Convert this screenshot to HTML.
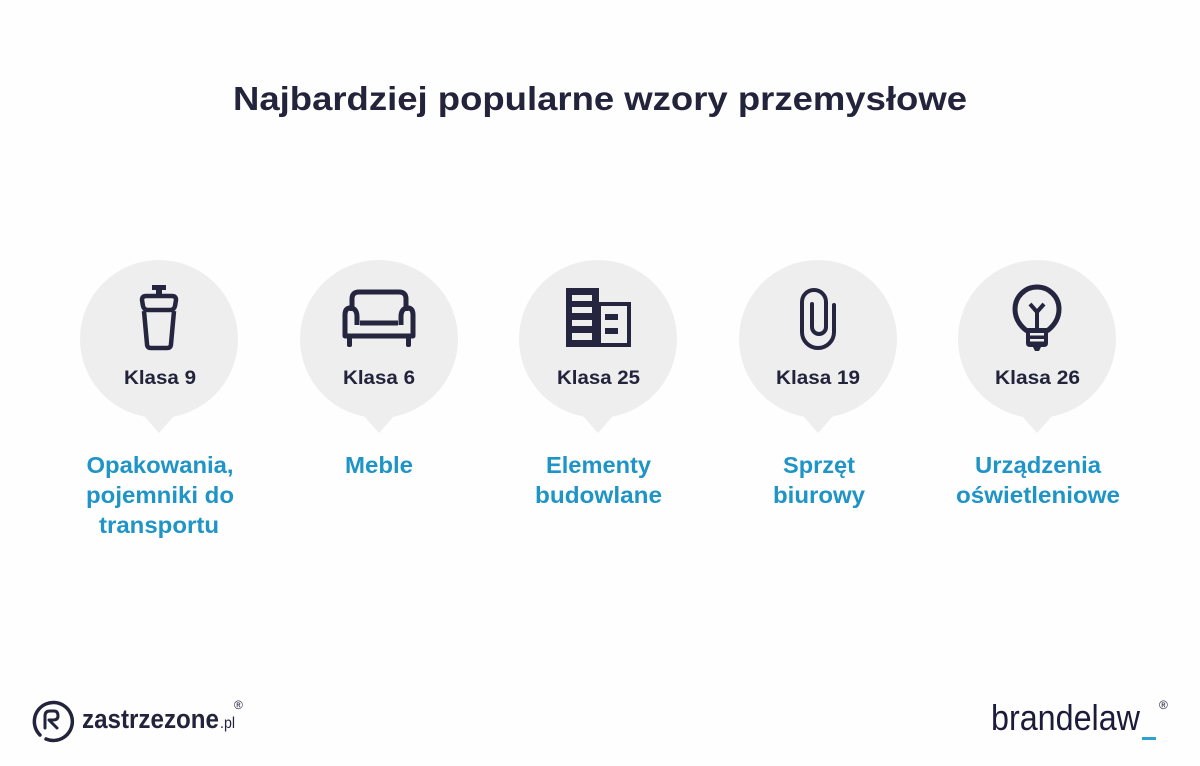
<!DOCTYPE html>
<html><head><meta charset="utf-8"><style>
html,body{margin:0;padding:0;background:#fff;}
svg{display:block;}
text{font-family:"Liberation Sans",sans-serif;}
</style></head><body>
<svg width="1200" height="766" viewBox="0 0 1200 766" xmlns="http://www.w3.org/2000/svg">
<rect width="1200" height="766" fill="#fefefe"/>
<text x="600" y="110" text-anchor="middle" font-size="33" font-weight="bold" fill="#23233c" textLength="734" lengthAdjust="spacingAndGlyphs">Najbardziej popularne wzory przemysłowe</text>

<g fill="#eeeeef">
<circle cx="159" cy="339" r="79"/><polygon points="137,408 181,408 159,433"/>
<circle cx="379" cy="339" r="79"/><polygon points="357,408 401,408 379,433"/>
<circle cx="598" cy="339" r="79"/><polygon points="576,408 620,408 598,433"/>
<circle cx="818" cy="339" r="79"/><polygon points="796,408 840,408 818,433"/>
<circle cx="1037" cy="339" r="79"/><polygon points="1015,408 1059,408 1037,433"/>
</g>

<g fill="#23233c" font-size="19" font-weight="bold">
<text x="160" y="384" text-anchor="middle" textLength="72" lengthAdjust="spacingAndGlyphs">Klasa 9</text>
<text x="379" y="384" text-anchor="middle" textLength="72" lengthAdjust="spacingAndGlyphs">Klasa 6</text>
<text x="598.5" y="384" text-anchor="middle" textLength="83" lengthAdjust="spacingAndGlyphs">Klasa 25</text>
<text x="818" y="384" text-anchor="middle" textLength="84" lengthAdjust="spacingAndGlyphs">Klasa 19</text>
<text x="1037.5" y="384" text-anchor="middle" textLength="85" lengthAdjust="spacingAndGlyphs">Klasa 26</text>
</g>

<!-- bottle -->
<g fill="none" stroke="#25253f" stroke-width="4.5" stroke-linejoin="round">
<path d="M146,296 L172,296 Q176,296 176,300 L175,306 Q174,310 170,310 L148,310 Q144,310 143,306 L142,300 Q142,296 146,296 Z"/>
<path d="M144,311 L147,344 Q147,348 151,348 L167,348 Q171,348 171,344 L174,311"/>
</g>
<rect x="152" y="285" width="14" height="5" fill="#25253f"/>
<rect x="156" y="289" width="6" height="7" fill="#25253f"/>

<!-- sofa -->
<g fill="none" stroke="#25253f" stroke-width="5" stroke-linejoin="round">
<path d="M352,311 L352,299 Q352,292 359,292 L399,292 Q406,292 406,299 L406,311"/>
<path d="M360,323 L398,323"/>
<path d="M357,325 L357,317 Q357,308 350,308 Q345,308 345,315 L345,336 L413,336 L413,315 Q413,308 408,308 Q401,308 401,317 L401,325"/>
</g>
<rect x="347" y="336" width="5" height="11" rx="2" fill="#25253f"/>
<rect x="406" y="336" width="5" height="11" rx="2" fill="#25253f"/>

<!-- building -->
<g fill="#25253f">
<rect x="566" y="288" width="33" height="59"/>
<rect x="598" y="302" width="33" height="45"/>
</g>
<g fill="#eeeeef">
<rect x="572" y="295" width="20" height="6"/>
<rect x="572" y="307" width="20" height="6"/>
<rect x="572" y="320" width="20" height="6"/>
<rect x="572" y="333" width="20" height="7"/>
<rect x="601" y="306" width="26" height="37"/>
</g>
<rect x="605" y="314" width="13" height="6" fill="#25253f"/>
<rect x="605" y="328" width="13" height="6" fill="#25253f"/>

<!-- paperclip -->
<path d="M834,305 L834,332 A16,16 0 0 1 802,332 L802,302 A12,12 0 0 1 826,302 L826,327 A7,7 0 0 1 812,327 L812,304" fill="none" stroke="#25253f" stroke-width="4" stroke-linecap="round"/>

<!-- bulb -->
<path d="M1027,331 Q1015,322 1015,309 A22,22 0 0 1 1059,309 Q1059,322 1047,331" fill="none" stroke="#25253f" stroke-width="5"/>
<path d="M1030,304 L1037,312 L1044,304 M1037,312 L1037,330" fill="none" stroke="#25253f" stroke-width="4"/>
<path d="M1026,328 L1048,328 L1048,343 Q1048,347 1044,347 L1041,347 L1039,351 L1035,351 L1033,347 L1030,347 Q1026,347 1026,343 Z" fill="#25253f"/>
<rect x="1030" y="333" width="14" height="2.5" fill="#eeeeef"/>
<rect x="1030" y="339" width="14" height="2.5" fill="#eeeeef"/>

<g fill="#1f94c6" font-size="23" font-weight="bold">
<text x="160" y="473" text-anchor="middle" textLength="147" lengthAdjust="spacingAndGlyphs">Opakowania,</text>
<text x="160" y="503" text-anchor="middle" textLength="148" lengthAdjust="spacingAndGlyphs">pojemniki do</text>
<text x="159" y="533" text-anchor="middle" textLength="120" lengthAdjust="spacingAndGlyphs">transportu</text>
<text x="379" y="473" text-anchor="middle" textLength="68" lengthAdjust="spacingAndGlyphs">Meble</text>
<text x="598.5" y="473" text-anchor="middle" textLength="105" lengthAdjust="spacingAndGlyphs">Elementy</text>
<text x="598.5" y="503" text-anchor="middle" textLength="127" lengthAdjust="spacingAndGlyphs">budowlane</text>
<text x="819" y="473" text-anchor="middle" textLength="72" lengthAdjust="spacingAndGlyphs">Sprzęt</text>
<text x="819" y="503" text-anchor="middle" textLength="92" lengthAdjust="spacingAndGlyphs">biurowy</text>
<text x="1038" y="473" text-anchor="middle" textLength="126" lengthAdjust="spacingAndGlyphs">Urządzenia</text>
<text x="1038" y="503" text-anchor="middle" textLength="164" lengthAdjust="spacingAndGlyphs">oświetleniowe</text>
</g>

<!-- zastrzezone logo -->
<path d="M40,735 A19,19 0 1 1 46,739" fill="none" stroke="#23233c" stroke-width="3.5" stroke-linecap="round"/>
<path d="M45,728 L45,716 Q45,711 50,711 L54,711 Q58,711 58,716 Q58,720 53,720 L49,720 L57,728" fill="none" stroke="#23233c" stroke-width="3" stroke-linejoin="round" stroke-linecap="round"/>
<text x="82" y="728" font-size="27" font-weight="bold" fill="#23233c" textLength="137" lengthAdjust="spacingAndGlyphs">zastrzezone</text>
<text x="220" y="728" font-size="16" fill="#23233c" textLength="15" lengthAdjust="spacingAndGlyphs">.pl</text>
<text x="234" y="709" font-size="12" fill="#23233c">®</text>

<!-- brandelaw -->
<text x="991" y="730" font-size="36" fill="#1c1c3a" style="font-family:'Liberation Sans Narrow','Liberation Sans',sans-serif" textLength="149" lengthAdjust="spacingAndGlyphs">brandelaw</text>
<rect x="1142" y="737" width="14" height="3" fill="#2ba3cc"/>
<text x="1159" y="709" font-size="12" fill="#23233c">®</text>
</svg>
</body></html>
